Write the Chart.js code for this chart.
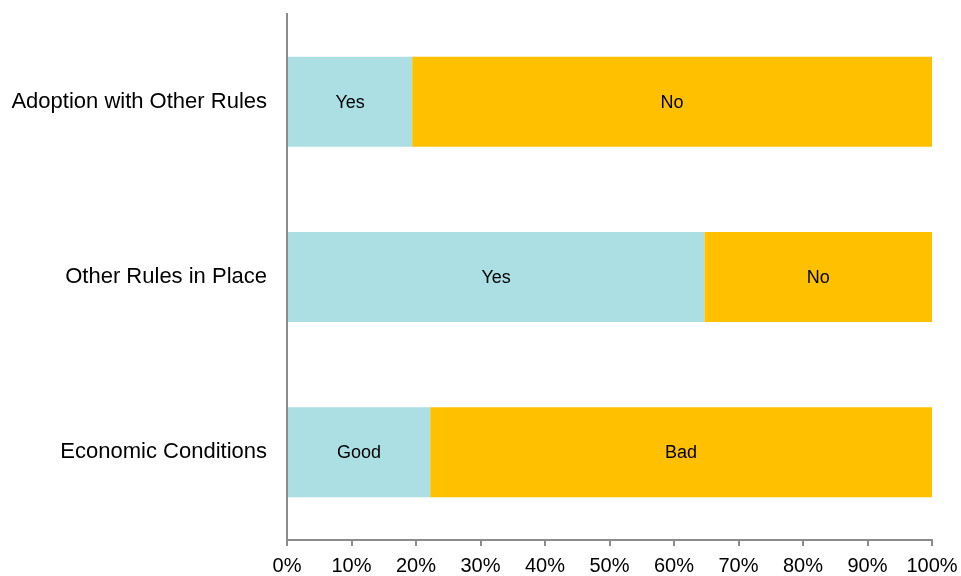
<!DOCTYPE html>
<html lang="en">
<head>
    <meta charset="UTF-8">
    <title>Conditions</title>
    <script src="https://cdn.jsdelivr.net/npm/chart.js"></script>
    <style>
        html, body { margin: 0; padding: 0; background: #fff; }
        #wrap { width: 961px; height: 576px; }
    </style>
</head>
<body>
    <div id="wrap"><canvas id="barChart" width="961" height="576"></canvas></div>

    <script>
        // Datos del gráfico
        const categories = ['Adoption with Other Rules', 'Other Rules in Place', 'Economic Conditions'];
        const firstShare = [19.4, 64.7, 22.2];
        const secondShare = [80.6, 35.3, 77.8];
        const firstLabels = ['Yes', 'Yes', 'Good'];
        const secondLabels = ['No', 'No', 'Bad'];
        const xTicks = [0, 10, 20, 30, 40, 50, 60, 70, 80, 90, 100];

        const axisGrey = '#8c8c8c';
        const fontFam = '"Liberation Sans", Arial, sans-serif';

        // Texto dentro de cada segmento
        const segmentText = {
            id: 'segmentText',
            afterDatasetsDraw(chart) {
                const ctx = chart.ctx;
                ctx.save();
                ctx.font = '18px ' + fontFam;
                ctx.fillStyle = '#000';
                ctx.textAlign = 'center';
                ctx.textBaseline = 'middle';
                chart.data.datasets.forEach((ds, i) => {
                    chart.getDatasetMeta(i).data.forEach((bar, j) => {
                        const cx = (bar.x + bar.base) / 2;
                        ctx.fillText(ds.segLabels[j], cx, bar.y + 1);
                    });
                });
                ctx.restore();
            }
        };

        new Chart(document.getElementById('barChart').getContext('2d'), {
            type: 'bar',
            data: {
                labels: categories,
                datasets: [{
                    data: firstShare,
                    segLabels: firstLabels,
                    backgroundColor: '#abdfe3',
                    borderWidth: 0,
                    barPercentage: 0.513,
                    categoryPercentage: 1
                }, {
                    data: secondShare,
                    segLabels: secondLabels,
                    backgroundColor: '#ffc000',
                    borderWidth: 0,
                    barPercentage: 0.513,
                    categoryPercentage: 1
                }]
            },
            options: {
                indexAxis: 'y',
                responsive: false,
                animation: false,
                layout: { padding: { top: 14, right: 29, left: 0, bottom: 0 } },
                plugins: {
                    legend: { display: false },
                    tooltip: { enabled: false }
                },
                scales: {
                    x: {
                        stacked: true,
                        min: 0,
                        max: 100,
                        afterBuildTicks(scale) {
                            scale.ticks = xTicks.map(v => ({ value: v }));
                        },
                        afterFit(scale) {
                            scale.height = 36;
                            scale.paddingLeft = 0;
                            scale.paddingRight = 0;
                        },
                        grid: {
                            drawOnChartArea: false,
                            drawTicks: true,
                            tickLength: 6,
                            color: axisGrey,
                            lineWidth: 2
                        },
                        border: { display: true, color: axisGrey, width: 2 },
                        ticks: {
                            padding: 8,
                            color: '#000',
                            font: { family: fontFam, size: 20 },
                            maxRotation: 0,
                            callback: v => v + '%'
                        }
                    },
                    y: {
                        stacked: true,
                        afterFit(scale) {
                            scale.width = 287;
                            scale.paddingTop = 0;
                            scale.paddingBottom = 0;
                        },
                        grid: { display: false },
                        border: { display: true, color: axisGrey, width: 2 },
                        ticks: {
                            padding: 12,
                            color: '#000',
                            font: { family: fontFam, size: 22 }
                        }
                    }
                }
            },
            plugins: [segmentText]
        });
    </script>
</body>
</html>
